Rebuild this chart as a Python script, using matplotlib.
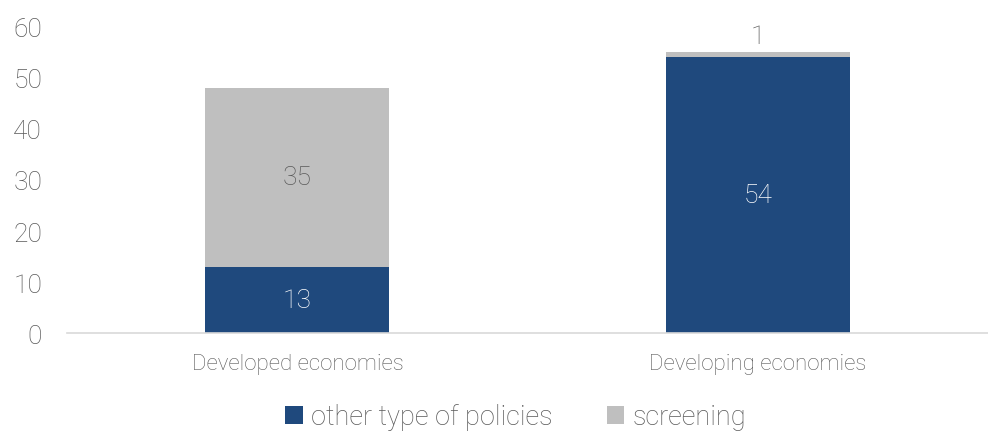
import numpy as np
import matplotlib.pyplot as plt

categories = ["Developed economies", "Developing economies"]
other_policies = [13, 54]
screening = [35, 1]
series_names = ["other type of policies", "screening"]

navy = "#1F497D"
grey = "#BFBFBF"
text_grey = "#595959"

plt.rcParams['font.family'] = ['Roboto', 'DejaVu Sans']
plt.rcParams['font.weight'] = 'light'

fig = plt.figure(figsize=(9.88, 4.35), dpi=100)
ax = fig.add_axes([0.068, 0.232, 0.932, 0.704])

x = np.arange(len(categories))
w = 0.4
b1 = ax.bar(x, other_policies, w, color=navy, label=series_names[0])
b2 = ax.bar(x, screening, w, bottom=other_policies, color=grey, label=series_names[1])

# value labels
for i in range(len(x)):
    ax.text(x[i], other_policies[i] / 2, str(other_policies[i]), ha='center', va='center',
            color='white', fontsize=19, fontweight='light')
    top = other_policies[i] + screening[i]
    if screening[i] >= 5:
        ax.text(x[i], other_policies[i] + screening[i] / 2, str(screening[i]), ha='center',
                va='center', color=text_grey, fontsize=19, fontweight='light')
    else:
        ax.text(x[i], top + 0.8, str(screening[i]), ha='center', va='bottom',
                color=text_grey, fontsize=19, fontweight='light')

ax.set_xlim(-0.5, 1.5)
ax.set_ylim(0, 60)
ax.set_yticks(range(0, 61, 10))
ax.set_xticks(x)
ax.set_xticklabels(categories, fontsize=16, color=text_grey)
ax.tick_params(axis='y', labelsize=19, labelcolor=text_grey, length=0, pad=18)
ax.tick_params(axis='x', length=0, pad=14)
for s in ['top', 'right', 'left']:
    ax.spines[s].set_visible(False)
ax.spines['bottom'].set_color('#D9D9D9')
ax.spines['bottom'].set_linewidth(1.2)

fig.legend(handles=[b1, b2], loc='center', bbox_to_anchor=(0.522, 0.04), ncol=2,
           frameon=False, fontsize=19.5, labelcolor=text_grey, handlelength=0.65,
           handleheight=0.65, handletextpad=0.3, columnspacing=2.0)

fig.savefig('out.png', dpi=100)
